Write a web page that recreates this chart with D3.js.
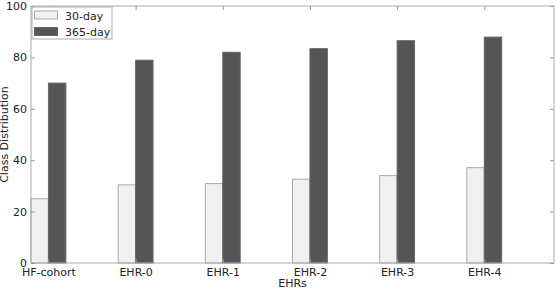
<!DOCTYPE html>
<html>
<head>
<meta charset="utf-8">
<script src="https://cdn.jsdelivr.net/npm/d3@7"></script>
<style>
  body { margin: 0; background: #fff; }
  svg text { font-family: "DejaVu Sans", sans-serif; fill: #222; }
</style>
</head>
<body>
<svg id="chart" width="560" height="291"></svg>
<script>
// data
var categories = ["HF-cohort", "EHR-0", "EHR-1", "EHR-2", "EHR-3", "EHR-4"];
var day30 = [25.0, 30.4, 30.9, 32.6, 34.0, 37.1];
var day365 = [70.0, 78.9, 82.0, 83.4, 86.5, 87.9];
var seriesNames = ["30-day", "365-day"];
var yTicks = [0, 20, 40, 60, 80, 100];

var svg = d3.select("#chart");
// plot box (note: "top" is taken by window.top, so use plotTop)
var plotLeft = 31, plotRight = 554, plotTop = 6, plotBottom = 263;

// bars sit at index +/- 0.2, like matplotlib
var x = d3.scaleLinear().domain([-0.2, 5.8]).range([plotLeft, plotRight]);
var y = d3.scaleLinear().domain([0, 100]).range([plotBottom, plotTop]);
var bw = 0.2;

var colors = ["#f0f0f0", "#555555"];

var g = svg.append("g");

// 30-day bars
g.selectAll("rect.d30").data(day30).enter().append("rect")
  .attr("class", "d30")
  .attr("x", function (d, i) { return x(i - bw); })
  .attr("y", function (d) { return y(d); })
  .attr("width", x(bw) - x(0))
  .attr("height", function (d) { return y(0) - y(d); })
  .attr("fill", colors[0])
  .attr("stroke", "#aaa")
  .attr("stroke-width", 1);

// 365-day bars
g.selectAll("rect.d365").data(day365).enter().append("rect")
  .attr("class", "d365")
  .attr("x", function (d, i) { return x(i); })
  .attr("y", function (d) { return y(d); })
  .attr("width", x(bw) - x(0))
  .attr("height", function (d) { return y(0) - y(d); })
  .attr("fill", colors[1])
  .attr("stroke", "#666")
  .attr("stroke-width", 1);

// frame
svg.append("rect")
  .attr("x", plotLeft).attr("y", plotTop)
  .attr("width", plotRight - plotLeft).attr("height", plotBottom - plotTop)
  .attr("fill", "none").attr("stroke", "#aaa").attr("stroke-width", 1);

// y axis: labels outside, ticks inside on both sides
var yAxis = d3.axisLeft(y).tickValues(yTicks).tickSize(-4).tickPadding(4);
var ya = svg.append("g").attr("transform", "translate(" + plotLeft + ",0)").call(yAxis);
ya.select(".domain").remove();
ya.selectAll("line").attr("stroke", "#999");
ya.selectAll("text").style("font-size", "11px");

var yAxisR = d3.axisRight(y).tickValues(yTicks).tickSize(-4).tickFormat("");
var yr = svg.append("g").attr("transform", "translate(" + plotRight + ",0)").call(yAxisR);
yr.select(".domain").remove();
yr.selectAll("line").attr("stroke", "#999");

// x axis
var xAxis = d3.axisBottom(x).tickValues(d3.range(categories.length))
  .tickFormat(function (i) { return categories[i]; }).tickSize(-4).tickPadding(5);
var xa = svg.append("g").attr("transform", "translate(0," + plotBottom + ")").call(xAxis);
xa.select(".domain").remove();
xa.selectAll("line").attr("stroke", "#999");
xa.selectAll("text").style("font-size", "11px");

var xAxisT = d3.axisTop(x).tickValues(d3.range(categories.length)).tickSize(-4).tickFormat("");
var xt = svg.append("g").attr("transform", "translate(0," + plotTop + ")").call(xAxisT);
xt.select(".domain").remove();
xt.selectAll("line").attr("stroke", "#999");

// axis titles
svg.append("text")
  .attr("x", (plotLeft + plotRight) / 2).attr("y", 287)
  .attr("text-anchor", "middle").style("font-size", "11px")
  .text("EHRs");

svg.append("text")
  .attr("transform", "translate(8," + (plotBottom + plotTop) / 2 + ") rotate(-90)")
  .attr("text-anchor", "middle").style("font-size", "11px")
  .text("Class Distribution");

// legend
var lg = svg.append("g").attr("transform", "translate(32,7)");
lg.append("rect").attr("width", 80).attr("height", 32)
  .attr("fill", "#fff").attr("stroke", "#aaa");
seriesNames.forEach(function (name, i) {
  lg.append("rect")
    .attr("x", 2.5).attr("y", 4 + i * 16.5)
    .attr("width", 23).attr("height", 8)
    .attr("fill", colors[i]).attr("stroke", i ? "#666" : "#aaa");
  lg.append("text")
    .attr("x", 33).attr("y", 12.5 + i * 16.5)
    .style("font-size", "11px")
    .text(name);
});
</script>
</body>
</html>
